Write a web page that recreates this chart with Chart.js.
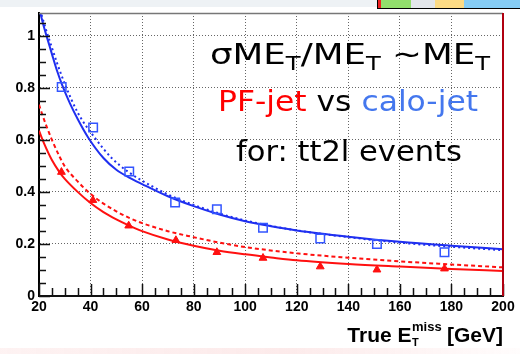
<!DOCTYPE html>
<html>
<head>
<meta charset="utf-8">
<script src="https://cdn.jsdelivr.net/npm/chart.js@4.4.1/dist/chart.umd.min.js"></script>
<style>
  html, body { margin: 0; padding: 0; background: #fff; }
  #wrap { position: relative; width: 520px; height: 354px; overflow: hidden; }
  #band { position: absolute; left: 0; top: 0; width: 520px; height: 7px; background: #eef2f5; }
  #tabs {
    position: absolute; left: 377px; top: -1px; width: 145px; height: 8px;
    border: 1px solid #000;
    background: linear-gradient(to right, #e22 0px, #e22 3px, #92df6c 3px, #92df6c 33px,
      #e3e6ea 33px, #e3e6ea 57px, #fcdb85 57px, #fcdb85 86px, #86cdf5 86px);
  }
  #glow { position: absolute; left: 0; top: 348px; width: 520px; height: 6px;
    background: linear-gradient(to right, rgba(240,130,130,0.10), rgba(240,140,140,0.18) 55%, rgba(255,210,210,0.06)); }
  canvas { position: absolute; left: 0; top: 0; }
  .note { position: absolute; left: 0; display: inline-block; transform-origin: left top;
    font-family: "DejaVu Sans", sans-serif; line-height: 1; color: #000; white-space: nowrap; }
  .note sub { font-size: 0.68em; vertical-align: -0.32em; line-height: 0; }
  .ax { position: absolute; font-family: "Liberation Sans", Arial, sans-serif; font-weight: bold;
    line-height: 1; color: #000; white-space: nowrap; }
</style>
</head>
<body>
<div id="wrap">
  <div id="band"></div>
  <div id="tabs"></div>
  <canvas id="resChart" width="520" height="354"></canvas>
  <div class="note" id="n1" style="top:41px;font-size:28px;">σME<sub>T</sub>/ME<sub>T</sub> ~ME<sub>T</sub></div>
  <div class="note" id="n2" style="top:87px;font-size:29px;"><span style="color:#ff0000">PF-jet</span> vs <span style="color:#4477ee">calo-jet</span></div>
  <div class="note" id="n3" style="top:137px;font-size:29px;">for: tt2l events</div>
  <div class="ax" id="t1" style="top:324px;font-size:21px;">True E</div>
  <div class="ax" style="left:412px;top:320px;font-size:13px;">miss</div>
  <div class="ax" style="left:412px;top:337px;font-size:11px;">T</div>
  <div class="ax" style="left:447px;top:324px;font-size:21px;">[GeV]</div>
  <div id="glow"></div>
</div>
<script>
// axis ticks
const xTicks = [20, 40, 60, 80, 100, 120, 140, 160, 180, 200];
const yTicks = [0, 0.2, 0.4, 0.6, 0.8, 1];

// measured points (calo-jet = blue squares, PF-jet = red triangles)
const caloX = [28.8, 41, 55, 72.8, 89, 106.9, 129.1, 151.1, 177.3];
const caloRes = [0.803, 0.647, 0.478, 0.359, 0.333, 0.262, 0.221, 0.2, 0.168];
const pfX = [28.7, 40.9, 54.8, 73.1, 89, 106.9, 129.1, 151.1, 177.3];
const pfRes = [0.476, 0.368, 0.27, 0.214, 0.168, 0.146, 0.113, 0.101, 0.105];

// fit curves
const caloFitX = [20.5, 22, 23.5, 25, 27, 29, 32, 35, 39, 45, 50, 55, 60, 70, 80, 90, 100, 110, 120, 140, 160, 180, 200];
const caloFitY = [1.087, 1.03, 0.98, 0.93, 0.865, 0.81, 0.74, 0.68, 0.61, 0.53, 0.485, 0.455, 0.43, 0.383, 0.345, 0.313, 0.287, 0.268, 0.252, 0.228, 0.208, 0.193, 0.18];
const caloFit2X = [21, 22.5, 24.3, 27, 30, 35, 41.7, 48.5, 55, 60, 70, 80, 90, 100, 120, 140, 160, 180, 200];
const caloFit2Y = [1.08, 1.03, 0.975, 0.895, 0.815, 0.705, 0.607, 0.527, 0.474, 0.443, 0.39, 0.35, 0.317, 0.29, 0.252, 0.226, 0.205, 0.189, 0.176];
const pfFitX = [20, 22, 25, 28, 30, 35, 40, 45, 50, 55, 60, 70, 80, 90, 100, 110, 120, 140, 160, 180, 200];
const pfFitY = [0.635, 0.585, 0.522, 0.475, 0.45, 0.4, 0.357, 0.322, 0.294, 0.27, 0.249, 0.217, 0.193, 0.174, 0.16, 0.148, 0.137, 0.123, 0.113, 0.104, 0.096];
const pfFit2X = [20, 21, 23, 25, 28, 30, 35, 38.5, 40, 45, 50, 55, 60, 70, 80, 90, 100, 120, 140, 160, 180, 200];
const pfFit2Y = [0.735, 0.705, 0.65, 0.6, 0.535, 0.498, 0.44, 0.405, 0.392, 0.355, 0.325, 0.3, 0.28, 0.249, 0.226, 0.205, 0.188, 0.164, 0.147, 0.133, 0.121, 0.11];

const BLUE = '#1f2ff0';
const RED = '#ff1010';

// stretch the slide text to the widths seen in the picture (geometric font is wider)
[['n1', 350, 280], ['n2', 348, 260], ['n3', 349, 226]].forEach(([id, cx, w]) => {
    const el = document.getElementById(id);
    const nat = el.getBoundingClientRect().width;
    el.style.transform = `scaleX(${w / nat})`;
    el.style.left = (cx - w / 2) + 'px';
});
const t1 = document.getElementById('t1');
t1.style.left = (411.5 - t1.getBoundingClientRect().width) + 'px';

function pts(xs, ys) {
    return xs.map((x, i) => ({ x: x, y: ys[i] }));
}

function fitLine(xs, ys, color, dash) {
    return {
        data: pts(xs, ys),
        showLine: true,
        borderColor: color,
        borderWidth: 2,
        borderDash: dash,
        pointRadius: 0,
        cubicInterpolationMode: 'monotone',
        fill: false
    };
}

// inward tick marks + top / right frame
const frame = {
    id: 'frame',
    afterDraw(chart) {
        const { ctx, chartArea: a, scales: { x, y } } = chart;
        ctx.save();
        ctx.strokeStyle = '#111';
        ctx.lineWidth = 1.5;
        ctx.beginPath();
        for (let i = 0; i <= 21; i++) {
            const py = Math.round(y.getPixelForValue(i * 0.05)) + 0.5;
            const len = i % 4 === 0 ? 11 : 7;
            ctx.moveTo(a.left, py);
            ctx.lineTo(a.left + len, py);
        }
        for (let v = 20; v <= 200; v += 5) {
            const px = Math.round(x.getPixelForValue(v)) + 0.5;
            const len = v % 20 === 0 ? 12 : 8;
            ctx.moveTo(px, a.bottom);
            ctx.lineTo(px, a.bottom - len);
        }
        ctx.stroke();

        ctx.strokeStyle = '#777';
        ctx.beginPath();
        ctx.moveTo(a.left, a.top + 0.5);
        ctx.lineTo(a.right, a.top + 0.5);
        ctx.stroke();

        ctx.strokeStyle = '#b00010';
        ctx.lineWidth = 2;
        ctx.beginPath();
        ctx.moveTo(a.right, a.top);
        ctx.lineTo(a.right, a.bottom);
        ctx.stroke();
        ctx.restore();
    }
};

const tickFont = { family: '"Liberation Sans", Arial, sans-serif', weight: 'bold', size: 14 };

new Chart(document.getElementById('resChart').getContext('2d'), {
    type: 'scatter',
    data: {
        datasets: [
            {
                data: pts(caloX, caloRes),
                pointStyle: 'rect',
                pointRadius: 6,
                borderColor: '#3355ff',
                borderWidth: 1.5,
                backgroundColor: 'rgba(0,0,0,0)'
            },
            {
                data: pts(pfX, pfRes),
                pointStyle: 'triangle',
                pointRadius: 4.5,
                borderColor: RED,
                borderWidth: 1,
                backgroundColor: RED
            },
            fitLine(caloFitX, caloFitY, BLUE, []),
            fitLine(caloFit2X, caloFit2Y, BLUE, [2, 3]),
            fitLine(pfFitX, pfFitY, RED, []),
            fitLine(pfFit2X, pfFit2Y, RED, [4, 3])
        ]
    },
    options: {
        responsive: false,
        animation: false,
        layout: { padding: { top: 13, right: 17, left: 0, bottom: 0 } },
        plugins: { legend: { display: false }, tooltip: { enabled: false } },
        scales: {
            x: {
                type: 'linear',
                min: 20,
                max: 200,
                afterBuildTicks: s => { s.ticks = xTicks.map(v => ({ value: v })); },
                afterFit: s => { s.height = 58; },
                grid: { drawTicks: false, color: 'rgba(0,0,0,0.6)', lineWidth: 1 },
                border: { color: '#111', width: 2, dash: [1, 2] },
                ticks: { padding: 3, font: tickFont, color: '#000', maxRotation: 0, autoSkip: false,
                    callback: v => String(v) }
            },
            y: {
                type: 'linear',
                min: 0,
                max: 1.087,
                afterBuildTicks: s => { s.ticks = yTicks.map(v => ({ value: v })); },
                afterFit: s => { s.width = 39; },
                grid: { drawTicks: false, color: 'rgba(0,0,0,0.6)', lineWidth: 1 },
                border: { color: '#000', width: 2, dash: [1, 2] },
                ticks: { padding: 4, font: tickFont, color: '#000', autoSkip: false,
                    callback: v => String(v) }
            }
        }
    },
    plugins: [frame]
});
</script>
</body>
</html>
